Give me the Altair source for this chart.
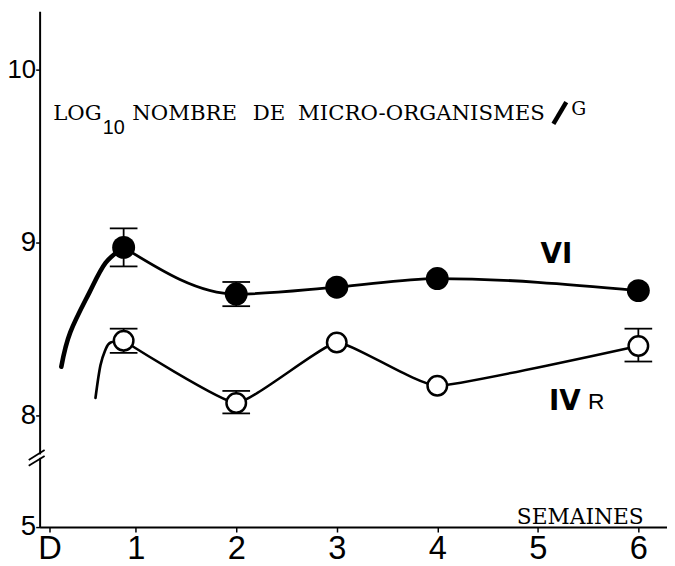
import altair as alt
import pandas as pd

# ---------------- data ----------------
weeks = [0.88, 2, 3, 4, 6]
vi_values = [8.97, 8.70, 8.74, 8.79, 8.72]
ivr_values = [8.43, 8.07, 8.42, 8.17, 8.40]

# rising parts of the curves before the first sampling
vi_lead_weeks = [0.26, 0.35, 0.54, 0.70, 0.88]
vi_lead_values = [8.28, 8.48, 8.71, 8.88, 8.97]
ivr_lead_weeks = [0.60, 0.65, 0.70, 0.75, 0.88]
ivr_lead_values = [8.10, 8.29, 8.38, 8.42, 8.43]

# error bars
vi_err_weeks = [0.88, 2]
vi_err_low = [8.86, 8.63]
vi_err_high = [9.08, 8.77]
ivr_err_weeks = [0.88, 2, 6]
ivr_err_low = [8.36, 8.01, 8.31]
ivr_err_high = [8.50, 8.14, 8.50]

# axes (y has a break: the bottom tick stands for 5)
x_tick_values = [1 / 7, 1, 2, 3, 4, 5, 6]
y_tick_values = [7.3526, 8, 9, 10]

# annotations (data units)
title_words = ["LOG", "NOMBRE", "DE", "MICRO-ORGANISMES"]
title_x = [0.180, 0.965, 2.165, 2.615]
title_y = 9.707

# ---------------- chart ----------------
W, H = 635, 522
xs = alt.Scale(domain=[0.0442, 6.285], nice=False, zero=False)
ys = alt.Scale(domain=[7.3526, 10.335], nice=False, zero=False)

SANS = "Liberation Sans, sans-serif"
SERIF = "DejaVu Serif, serif"

x_axis = alt.Axis(
    values=x_tick_values,
    labelExpr="datum.value < 0.5 ? 'D' : format(datum.value, 'd')",
    title=None, grid=False, domainColor="black", domainWidth=2,
    tickColor="black", tickWidth=1.5, tickSize=5,
    labelFont=SANS, labelFontSize=33, labelColor="black",
    labelPadding=1, labelFlush=False, labelOverlap=False,
)
y_axis = alt.Axis(
    values=y_tick_values,
    labelExpr="datum.value < 7.5 ? '5' : format(datum.value, 'd')",
    title=None, grid=False, domainColor="black", domainWidth=2,
    tickColor="black", tickWidth=1.5, tickSize=4,
    labelFont=SANS,
    labelFontSize={"condition": {"test": "datum.value > 9.5", "value": 26}, "value": 28},
    labelColor="black",
    labelPadding=0, labelFlush=False, labelOverlap=False,
)


def X(f="week"):
    return alt.X(f"{f}:Q", scale=xs, axis=x_axis)


def Y(f="value"):
    return alt.Y(f"{f}:Q", scale=ys, axis=y_axis)


lines_df = pd.DataFrame({
    "week": vi_lead_weeks + weeks + ivr_lead_weeks + weeks,
    "value": vi_lead_values + vi_values + ivr_lead_values + ivr_values,
    "seg": ["vi_lead"] * 5 + ["vi"] * 5 + ["ivr_lead"] * 5 + ["ivr"] * 5,
})
vi_df = pd.DataFrame({"week": weeks, "value": vi_values})
ivr_df = pd.DataFrame({"week": weeks, "value": ivr_values})
err_df = pd.DataFrame({
    "week": vi_err_weeks + ivr_err_weeks,
    "lo": vi_err_low + ivr_err_low,
    "hi": vi_err_high + ivr_err_high,
})

layers = []

# error bars
layers.append(alt.Chart(err_df).mark_rule(color="black", strokeWidth=1.8).encode(
    x=X(), y=Y("lo"), y2="hi:Q"))
for f in ["lo", "hi"]:
    layers.append(alt.Chart(err_df).mark_tick(
        orient="horizontal", color="black", size=28, thickness=1.8, opacity=1
    ).encode(x=X(), y=Y(f)))

# curves
styles = {
    "vi_lead": dict(strokeWidth=4.6, interpolate="natural"),
    "vi": dict(strokeWidth=2.8, interpolate="monotone"),
    "ivr_lead": dict(strokeWidth=2.7, interpolate="natural"),
    "ivr": dict(strokeWidth=2.5, interpolate="cardinal", tension=0.6),
}
for seg, st in styles.items():
    layers.append(alt.Chart(lines_df).transform_filter(
        alt.datum.seg == seg
    ).mark_line(color="black", strokeCap="round", **st).encode(
        x=X(), y=Y(), order="week:Q"))

# markers
layers.append(alt.Chart(vi_df).mark_point(
    shape="circle", size=540, filled=True, fill="black", stroke="black",
    strokeWidth=0, opacity=1).encode(x=X(), y=Y()))
layers.append(alt.Chart(ivr_df).mark_point(
    shape="circle", size=390, filled=True, fill="white", stroke="black",
    strokeWidth=2.5, opacity=1).encode(x=X(), y=Y()))


def text_layer(texts, xv, yv, font, size, weight="normal", align="left"):
    d = pd.DataFrame({"t": texts, "week": xv, "value": yv})
    return alt.Chart(d).mark_text(
        font=font, fontSize=size, fontWeight=weight, align=align,
        baseline="alphabetic", color="black"
    ).encode(x=X(), y=Y(), text="t:N")


layers.append(text_layer(title_words, title_x, [title_y] * 4, SERIF, 21.5))
layers.append(text_layer(["10"], [0.673], [9.627], SANS, 20))
layers.append(text_layer(["G"], [5.332], [9.735], SERIF, 19))
layers.append(text_layer(["VI"], [5.184], [8.877], "DejaVu Sans", 28, "bold", "center"))
layers.append(text_layer(["IV"], [5.268], [8.027], "DejaVu Sans", 28, "bold", "center"))
layers.append(text_layer(["R"], [5.499], [8.033], SANS, 23))
layers.append(text_layer(["SEMAINES"], [5.422], [7.371], SERIF, 22, "normal", "center"))

# thick slash of the title
slash_df = pd.DataFrame({"x1": [5.155], "x2": [5.283], "y1": [9.684], "y2": [9.810]})
layers.append(alt.Chart(slash_df).mark_rule(color="black", strokeWidth=4.5).encode(
    x=X("x1"), x2="x2:Q", y=Y("y1"), y2="y2:Q"))

# axis break marks
brk_df = pd.DataFrame({"x1": [-0.064, -0.064], "x2": [0.094, 0.094],
                       "y1": [7.741, 7.707], "y2": [7.798, 7.764]})
gap_df = pd.DataFrame({"x": [0.0442], "y1": [7.753], "y2": [7.773]})
layers.append(alt.Chart(gap_df).mark_rule(color="white", strokeWidth=5).encode(
    x=X("x"), y=Y("y1"), y2="y2:Q"))
layers.append(alt.Chart(brk_df).mark_rule(color="black", strokeWidth=1.8).encode(
    x=X("x1"), x2="x2:Q", y=Y("y1"), y2="y2:Q"))

chart = alt.layer(*layers).properties(
    width=W, height=H,
    padding={"left": 32, "top": 0, "right": 0, "bottom": 36},
    autosize=alt.AutoSizeParams(type="none"),
    background="white",
).configure_view(stroke=None)

chart.save("out.html", embed_options={"renderer": "svg", "actions": False})
